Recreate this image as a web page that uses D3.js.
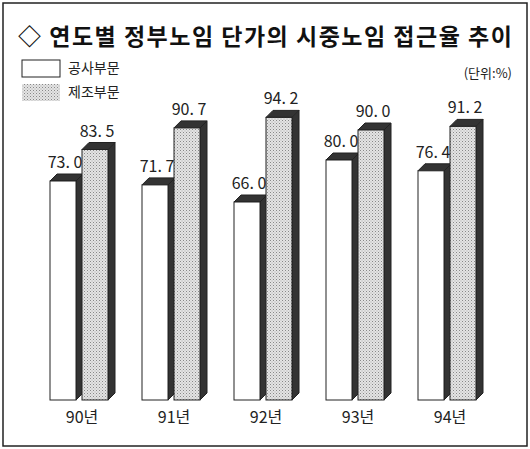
<!DOCTYPE html>
<html><head><meta charset="utf-8">
<script src="https://cdn.jsdelivr.net/npm/d3@7"></script>
<style>body{margin:0;background:#fff}</style>
</head><body>
<script>
const years = ['90년', '91년', '92년', '93년', '94년']
const gongsa = [73.0, 71.7, 66.0, 80.0, 76.4]
const jejo = [83.5, 90.7, 94.2, 90.0, 91.2]
const seriesNames = ['공사부문', '제조부문']

const W = 530, H = 449
const svg = d3.select('body').append('svg').attr('width', W).attr('height', H)
  .style('font-family', '"Noto Sans CJK KR", sans-serif')

const defs = svg.append('defs')
const pat = defs.append('pattern').attr('id', 'dots').attr('width', 3).attr('height', 3)
  .attr('patternUnits', 'userSpaceOnUse')
pat.append('rect').attr('width', 3).attr('height', 3).attr('fill', '#e4e4e4')
pat.append('rect').attr('width', 1).attr('height', 1).attr('fill', '#888')
pat.append('rect').attr('x', 1.5).attr('y', 1.5).attr('width', 1).attr('height', 1).attr('fill', '#aaa')

svg.append('rect').attr('x', 3).attr('y', 3).attr('width', W - 6).attr('height', H - 6)
  .attr('fill', 'none').attr('stroke', '#222').attr('stroke-width', 1.5)

svg.append('text').attr('x', 18).attr('y', 45).attr('font-size', 23).attr('font-weight', 'bold')
  .attr('letter-spacing', 1.5).attr('fill', '#111').text('◇ 연도별 정부노임 단가의 시중노임 접근율 추이')

// legend
const fills = ['#fff', 'url(#dots)']
seriesNames.forEach((n, i) => {
  const y = 60 + i * 24
  svg.append('rect').attr('x', 22).attr('y', y).attr('width', 38).attr('height', 17)
    .attr('fill', fills[i]).attr('stroke', i ? 'none' : '#222')
  svg.append('text').attr('x', 68).attr('y', y + 13).attr('font-size', 14).attr('fill', '#222').text(n)
})
svg.append('text').attr('x', 512).attr('y', 78).attr('text-anchor', 'end')
  .attr('font-size', 13).attr('fill', '#222').text('(단위:%)')

const x = d3.scaleBand().domain(years).range([40, 500]).paddingInner(0).paddingOuter(0)
const y = d3.scaleLinear().domain([0, 100]).range([400, 100])
const bw = 26, dx = 7, dy = 7

function bar(x0, v, fill) {
  const top = y(v), bot = y(0)
  const g = svg.append('g')
  g.append('path').attr('d', `M${x0 + bw},${top} L${x0 + bw + dx},${top - dy} L${x0 + bw + dx},${bot - dy} L${x0 + bw},${bot} Z`)
    .attr('fill', '#333').attr('stroke', '#222')
  g.append('path').attr('d', `M${x0},${top} L${x0 + dx},${top - dy} L${x0 + bw + dx},${top - dy} L${x0 + bw},${top} Z`)
    .attr('fill', '#333').attr('stroke', '#222')
  g.append('rect').attr('x', x0).attr('y', top).attr('width', bw).attr('height', bot - top)
    .attr('fill', fill).attr('stroke', '#222')
  svg.append('text').attr('x', x0 + bw / 2 + 2).attr('y', top - 13).attr('text-anchor', 'middle')
    .attr('font-size', 16).attr('fill', '#222').text(v.toFixed(1).replace('.', '. '))
}

years.forEach((yr, i) => {
  const x0 = x(yr) + 10
  bar(x0, gongsa[i], '#fff')
  bar(x0 + 32, jejo[i], 'url(#dots)')
  svg.append('text').attr('x', x0 + 32).attr('y', 423).attr('text-anchor', 'middle')
    .attr('font-size', 16).attr('fill', '#222').text(yr)
})
</script>
</body></html>
